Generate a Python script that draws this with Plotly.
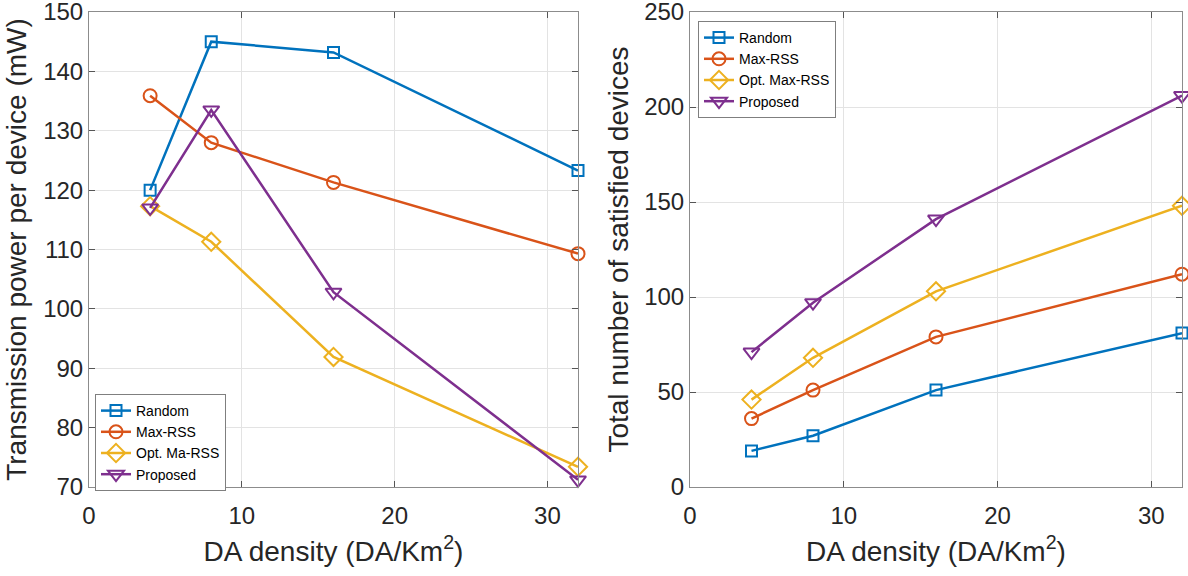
import plotly.graph_objects as go

density = [4, 8, 16, 32]

# Left: transmission power per device (mW)
power_random = [120.0, 145.0, 143.2, 123.3]
power_maxrss = [135.9, 128.0, 121.3, 109.3]
power_optmax = [117.3, 111.3, 91.9, 73.4]
power_proposed = [117.0, 133.5, 102.8, 71.2]

# Right: total number of satisfied devices
sat_random = [19, 27, 51, 81]
sat_maxrss = [36, 51, 79, 112]
sat_optmax = [46, 68, 103, 148]
sat_proposed = [71, 97, 141, 206]

names_left = ["Random", "Max-RSS", "Opt. Ma-RSS", "Proposed"]
names_right = ["Random", "Max-RSS", "Opt. Max-RSS", "Proposed"]

colors = ["#0072BD", "#D95319", "#EDB120", "#7E2F8E"]
symbols = ["square-open", "circle-open", "diamond-open", "triangle-down-open"]
msizes = [11, 13, 14, 14]

FONT = "Liberation Sans, Arial, sans-serif"

fig = go.Figure()

left_series = [power_random, power_maxrss, power_optmax, power_proposed]
right_series = [sat_random, sat_maxrss, sat_optmax, sat_proposed]

for i, ys in enumerate(left_series):
    fig.add_trace(go.Scatter(
        x=density, y=ys, name=names_left[i], mode="lines+markers",
        line=dict(color=colors[i], width=2.5),
        marker=dict(symbol=symbols[i], size=msizes[i], color=colors[i],
                    line=dict(width=2, color=colors[i])),
        xaxis="x", yaxis="y", legend="legend", cliponaxis=False))

for i, ys in enumerate(right_series):
    fig.add_trace(go.Scatter(
        x=density, y=ys, name=names_right[i], mode="lines+markers",
        line=dict(color=colors[i], width=2.5),
        marker=dict(symbol=symbols[i], size=msizes[i], color=colors[i],
                    line=dict(width=2, color=colors[i])),
        xaxis="x2", yaxis="y2", legend="legend2", cliponaxis=False))

axis_common = dict(
    showline=True, linecolor="#8c8c8c", linewidth=1, mirror="ticks",
    ticks="inside", ticklen=6, tickcolor="#555555", tickwidth=1,
    showgrid=True, gridcolor="#e3e3e3", gridwidth=1, zeroline=False,
    tickfont=dict(family=FONT, size=24, color="#262626"),
    automargin=False, ticklabeloverflow="allow",
)

xtitle = dict(text="DA density (DA/Km<sup>2</sup>)",
              font=dict(family=FONT, size=28, color="#262626"), standoff=13)

W, H = 1188, 576
fig.update_layout(
    width=W, height=H,
    margin=dict(l=0, r=0, t=0, b=0, autoexpand=False),
    paper_bgcolor="white", plot_bgcolor="white",
    showlegend=True,
    xaxis=dict(domain=[89 / W, 578 / W], range=[0, 32], tickvals=[0, 10, 20, 30],
               anchor="y", title=xtitle, ticklabelstandoff=7, **axis_common),
    yaxis=dict(domain=[1 - 487 / H, 1 - 12 / H], range=[70, 150], dtick=10,
               anchor="x",
               title=dict(text="Transmission power per device (mW)",
                          font=dict(family=FONT, size=28, color="#262626"),
                          standoff=8),
               **axis_common),
    xaxis2=dict(domain=[690 / W, 1182 / W], range=[0, 32], tickvals=[0, 10, 20, 30],
                anchor="y2", title=xtitle, ticklabelstandoff=7, **axis_common),
    yaxis2=dict(domain=[1 - 487 / H, 1 - 12 / H], range=[0, 250], dtick=50,
                anchor="x2",
                title=dict(text="Total number of satisfied devices",
                           font=dict(family=FONT, size=28, color="#262626"),
                           standoff=7),
                **axis_common),
    legend=dict(x=95 / W, y=1 - 394 / H, xanchor="left", yanchor="top",
                bgcolor="white", bordercolor="#7f7f7f", borderwidth=1,
                font=dict(family=FONT, size=14, color="#000000"),
                tracegroupgap=0, itemwidth=30),
    legend2=dict(x=698 / W, y=1 - 21 / H, xanchor="left", yanchor="top",
                 bgcolor="white", bordercolor="#7f7f7f", borderwidth=1,
                 font=dict(family=FONT, size=14, color="#000000"),
                 tracegroupgap=0, itemwidth=30),
)

fig.write_html("out.html")
